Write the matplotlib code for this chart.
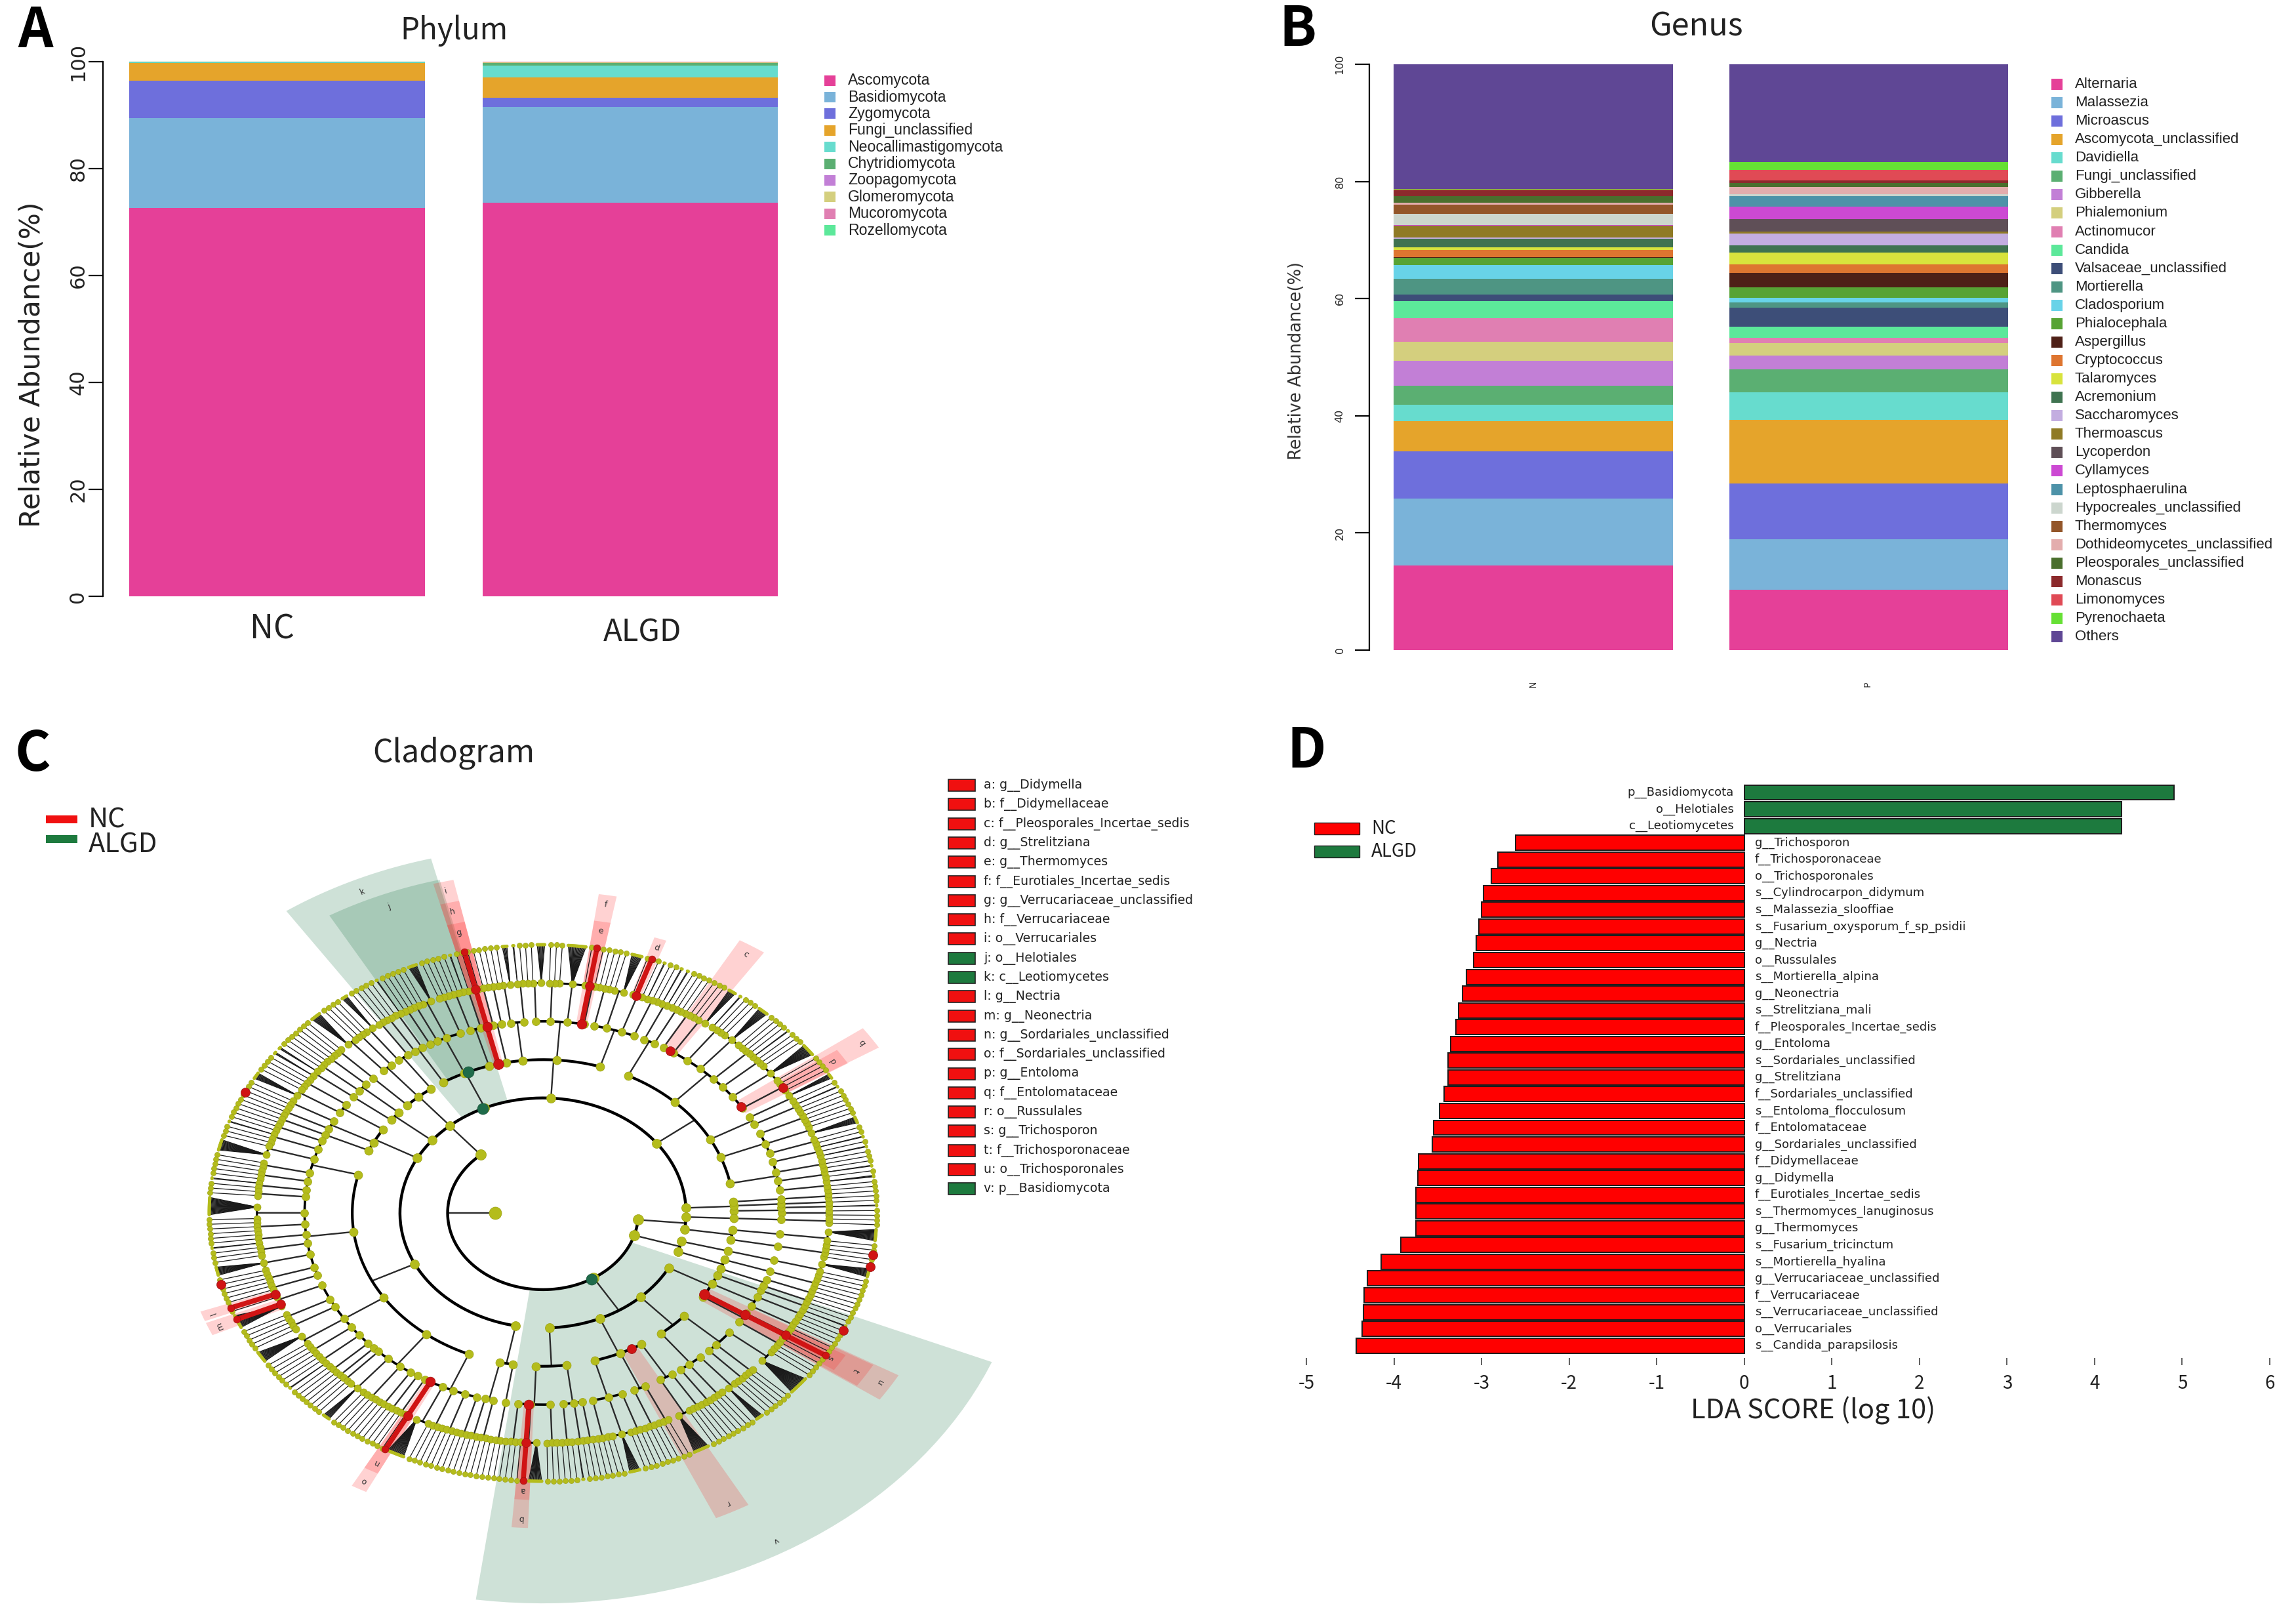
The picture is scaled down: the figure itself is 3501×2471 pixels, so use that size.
import numpy as np
import matplotlib
matplotlib.use("Agg")
import matplotlib.pyplot as plt
from matplotlib.collections import LineCollection
from matplotlib.patches import Polygon, Rectangle

W, H = 3501, 2471
UI_FONT = ["Noto Sans CJK SC", "DejaVu Sans"]
R_FONT = "Liberation Sans"

# panel A: phylum composition
phylum_names = ["Ascomycota", "Basidiomycota", "Zygomycota", "Fungi_unclassified", "Neocallimastigomycota",
                "Chytridiomycota", "Zoopagomycota", "Glomeromycota", "Mucoromycota", "Rozellomycota"]
phylum_nc = [72.6, 16.9, 7.0, 3.3, 0.1, 0.05, 0.02, 0.01, 0.01, 0.01]
phylum_algd = [73.6, 17.9, 1.8, 3.8, 2.2, 0.4, 0.1, 0.1, 0.05, 0.05]
phylum_groups = ["NC", "ALGD"]
phylum_ticks = [0, 20, 40, 60, 80, 100]
palette = ["#E54098", "#7AB3D9", "#6E6FDC", "#E5A42B", "#67DCCE", "#5BAF72", "#C27FD6", "#D4CF7E", "#E07FB2",
           "#5CE89A", "#3D4E78", "#4E9583", "#68D3E8", "#57A334", "#4E2017", "#DE7530", "#D8E33D", "#3F7350",
           "#C3ADE0", "#8F7A25", "#5F4F57", "#CC49D3", "#4D92A8", "#CCD6CE", "#93562A", "#E3ADAD", "#4A6F2D",
           "#8C2A2C", "#E04A55", "#66E034", "#5F4795"]

# panel B: genus composition
genus_names = ["Alternaria", "Malassezia", "Microascus", "Ascomycota_unclassified", "Davidiella", "Fungi_unclassified",
               "Gibberella", "Phialemonium", "Actinomucor", "Candida", "Valsaceae_unclassified", "Mortierella",
               "Cladosporium", "Phialocephala", "Aspergillus", "Cryptococcus", "Talaromyces", "Acremonium",
               "Saccharomyces", "Thermoascus", "Lycoperdon", "Cyllamyces", "Leptosphaerulina",
               "Hypocreales_unclassified", "Thermomyces", "Dothideomycetes_unclassified", "Pleosporales_unclassified",
               "Monascus", "Limonomyces", "Pyrenochaeta", "Others"]
genus_n = [14.5, 11.4, 8.0, 5.2, 2.8, 3.2, 4.3, 3.2, 4.1, 2.9, 1.1, 2.7, 2.3, 1.3, 0.1, 1.2, 0.5, 1.4, 0.2, 2.0,
           0.1, 0.05, 0.05, 1.9, 1.5, 0.4, 1.1, 1.0, 0.1, 0.1, 21.3]
genus_p = [10.3, 8.6, 9.5, 10.9, 4.7, 3.9, 2.4, 2.1, 0.9, 1.9, 3.2, 0.9, 0.8, 1.8, 2.5, 1.4, 2.1, 1.2, 2.0, 0.4,
           2.1, 2.1, 1.8, 0.3, 0.05, 1.2, 0.7, 0.4, 1.8, 1.4, 16.7]
genus_groups = ["N", "P"]

# panel D: LDA scores, top bar first
lda_names = ["p__Basidiomycota", "o__Helotiales", "c__Leotiomycetes", "g__Trichosporon", "f__Trichosporonaceae",
             "o__Trichosporonales", "s__Cylindrocarpon_didymum", "s__Malassezia_slooffiae",
             "s__Fusarium_oxysporum_f_sp_psidii", "g__Nectria", "o__Russulales", "s__Mortierella_alpina",
             "g__Neonectria", "s__Strelitziana_mali", "f__Pleosporales_Incertae_sedis", "g__Entoloma",
             "s__Sordariales_unclassified", "g__Strelitziana", "f__Sordariales_unclassified",
             "s__Entoloma_flocculosum", "f__Entolomataceae", "g__Sordariales_unclassified", "f__Didymellaceae",
             "g__Didymella", "f__Eurotiales_Incertae_sedis", "s__Thermomyces_lanuginosus", "g__Thermomyces",
             "s__Fusarium_tricinctum", "s__Mortierella_hyalina", "g__Verrucariaceae_unclassified",
             "f__Verrucariaceae", "s__Verrucariaceae_unclassified", "o__Verrucariales", "s__Candida_parapsilosis"]
lda_values = [4.91, 4.31, 4.31, -2.61, -2.81, -2.89, -2.98, -3.0, -3.03, -3.06, -3.09, -3.17, -3.22, -3.26, -3.29,
              -3.35, -3.38, -3.38, -3.43, -3.48, -3.55, -3.56, -3.72, -3.73, -3.75, -3.75, -3.75, -3.92, -4.15,
              -4.3, -4.34, -4.35, -4.36, -4.43]
lda_ticks = [-5, -4, -3, -2, -1, 0, 1, 2, 3, 4, 5, 6]

# panel C: biomarker legend
clade_labels = ["a: g__Didymella", "b: f__Didymellaceae", "c: f__Pleosporales_Incertae_sedis", "d: g__Strelitziana",
                "e: g__Thermomyces", "f: f__Eurotiales_Incertae_sedis", "g: g__Verrucariaceae_unclassified",
                "h: f__Verrucariaceae", "i: o__Verrucariales", "j: o__Helotiales", "k: c__Leotiomycetes",
                "l: g__Nectria", "m: g__Neonectria", "n: g__Sordariales_unclassified", "o: f__Sordariales_unclassified",
                "p: g__Entoloma", "q: f__Entolomataceae", "r: o__Russulales", "s: g__Trichosporon",
                "t: f__Trichosporonaceae", "u: o__Trichosporonales", "v: p__Basidiomycota"]
clade_green = ["j", "k", "v"]

# cladogram tree, nested class > order > family > genus, ints are species counts per genus (estimated)
asco = [
    [[[1, 1], [2]], [[1]], [[1, 1]]],
    [[[1, 1, 3], [1, 2], [1, 1, 1], [2, 1, 2]], [[1, 1], [9, 1], [1, 1, 1, 1]], [[1, 2], [1, 7]],
     [[1, 1, 1], [1, 16, 1], [1, 1], [2, 1, 1, 1], [1, 12, 1], [1, 1, 2], [9, 1, 1], [1, 1]], [[1, 1, 1], [2, 2]]],
    [[[1, 1, 2], [1, 1, 1], [12, 1], [1, 1, 1]], [[1, 1], [1, 20, 1], [1, 1], [9, 1, 1]], [[1, 2], [6, 1, 1]],
     [[1], [1, 1, 1]]],
    [[[1, 1, 2], [1, 1]], [[1, 1, 1], [10, 1], [1, 1], [1, 1]], [[2, 1], [1, 1]]],
    [[[1, 1], [7, 1]], [[1, 1], [1, 12]], [[1, 1]]],
    [[[1, 1, 1], [1, 1]], [[3, 3]]],
    [[[1, 1, 1], [1, 9]], [[1, 1], [1, 1, 1]], [[1]]],
    [[[1, 1, 1], [2, 1], [1, 1, 15], [1, 1], [1, 1, 1], [2, 1]],
     [[1, 1], [24, 1], [1, 1, 1], [1, 1, 2], [1, 1], [1, 12, 1], [1, 1, 1], [1, 1]],
     [[1, 1, 18], [1, 1], [1, 1, 1], [15, 1], [1, 1, 1], [1, 1, 2], [1, 1, 1], [1]],
     [[1, 1], [1, 9, 1], [1, 1, 1], [1, 1, 1], [1]],
     [[1, 1, 1], [20, 1], [1, 1], [1, 1, 1, 1], [1, 1]]],
    [[[1, 1], [1, 1]], [[1, 1, 1, 1]]],
]
basidio = [
    [[[1, 1], [1, 1, 15], [1, 1, 1]], [[1, 1, 1], [2, 1], [1, 1]]],
    [[[1, 1, 1], [1, 12, 1], [1, 1]], [[1, 1, 1, 1], [1, 1]], [[18, 1], [1, 1, 1]]],
    [[[1, 1], [1, 1, 1], [9, 1]], [[1, 1, 1], [1, 1], [24, 1]]],
    [[[1, 1, 1, 1], [1, 1]], [[1, 1, 1], [1, 1, 2]], [[1]]],
]
phylum_c = [[[[1, 1], [1, 1]], [[1, 1, 1]]], [[[1, 1, 12]]]]
phylum_d = [[[[1, 1, 1]], [[1, 1, 16]]], [[[1, 1]]]]
tree = [asco, basidio, phylum_c, phylum_d]
tree_start_angle = -1.0
root_angle = 180.0
fan_packing = 0.16

# shaded clades: label, angle, angular width, inner and outer radius in units of the outermost ring
green_labels = ["v", "k", "j"]
green_angles = [299.8, 114.3, 112.0]
green_widths = [75.5, 20.1, 16.0]
green_r0 = [0.29, 0.43, 0.57]
green_r1 = [1.455, 1.363, 1.28]
strip_labels = ["i", "h", "g", "f", "e", "d", "c", "q", "p", "u", "t", "s", "r", "b", "a", "o", "n", "l", "m"]
strip_angles = [103.6, 103.6, 103.6, 80.7, 80.7, 71.0, 57.8, 33.6, 33.0, -32.1, -32.1, -32.1, -63.0, 266.6, 266.6,
                241.8, 241.8, 200.7, 203.4]
strip_widths = [2.8, 2.8, 2.8, 2.6, 2.6, 2.0, 4.2, 4.2, 3.2, 5.0, 4.6, 3.6, 5.0, 2.4, 2.4, 2.4, 2.4, 2.0, 2.6]
strip_r0 = [0.57, 0.71, 0.86, 0.71, 0.86, 0.86, 0.71, 0.71, 0.86, 0.57, 0.71, 0.86, 0.57, 0.71, 0.86, 0.71, 0.86,
            0.86, 0.86]
strip_r1 = [1.27, 1.19, 1.11, 1.2, 1.1, 1.08, 1.175, 1.18, 1.07, 1.225, 1.14, 1.05, 1.25, 1.175, 1.07, 1.167, 1.09,
            1.09, 1.09]
# red branches and nodes that are significant: angle, first ring, last ring
red_angles = [103.6, 80.7, 71.0, 266.6, 241.8, -32.1, 200.7, 203.4]
red_ring0 = [4, 5, 6, 5, 5, 4, 6, 6]
red_ring1 = [7, 7, 7, 7, 7, 7, 7, 7]
red_node_angles = [57.8, 33.7, 33.0, -62.3, 153.2, 195.4, -9.0, -11.5, -25.9]
red_node_rings = [5, 5, 6, 4, 7, 7, 7, 7, 7]
green_node_angles = [300.5, 114.8, 113.0]
green_node_rings = [2, 3, 4]


def px_rect(x0, y0, x1, y1):
    return [x0 / W, 1 - y1 / H, (x1 - x0) / W, (y1 - y0) / H]


fig = plt.figure(figsize=(W / 100, H / 100), dpi=100, facecolor="white")


def stacked(ax, values, pos, width):
    bottom = 0
    for v, c in zip(values, palette):
        ax.bar(pos, v, width, bottom=bottom, color=c, linewidth=0)
        bottom += v


def style_stack(ax, tick_size, label_x, tick_len):
    ax.set_ylim(0, 100)
    ax.set_yticks(phylum_ticks)
    ax.set_yticklabels([])
    ax.tick_params(axis="y", length=tick_len, width=1.6)
    trans = ax.get_yaxis_transform()
    for t in phylum_ticks:
        ax.text(label_x, t, str(t), transform=trans, rotation=90, ha="center", va="center", fontsize=tick_size,
                color="#222222", clip_on=False)
    ax.set_xticks([])
    for s in ["top", "right", "bottom"]:
        ax.spines[s].set_visible(False)
    ax.spines["left"].set_linewidth(1.6)
    ax.spines["left"].set_bounds(0, 100)
    ax.patch.set_alpha(0)


# A
ax_a = fig.add_axes(px_rect(157, 94, 1186, 909))
stacked(ax_a, phylum_nc, 0, 0.837)
stacked(ax_a, phylum_algd, 1, 0.837)
ax_a.set_xlim(-0.4926, 1.4165)
style_stack(ax_a, 22, -0.037, 16)

# B
ax_b = fig.add_axes(px_rect(2088, 98, 3063, 991))
stacked(ax_b, genus_n, 0, 0.832)
stacked(ax_b, genus_p, 1, 0.832)
ax_b.set_xlim(-0.489, 1.418)
style_stack(ax_b, 11.5, -0.046, 16)

# C: cladogram, unit radius is the outermost ring, squashed to an ellipse by the axes
RX, RY = 509, 409
CX, CY = 828, 1849
ax_c = fig.add_axes(px_rect(CX - 1.6 * RX, CY - 1.6 * RY, CX + 1.6 * RX, CY + 1.6 * RY))
ax_c.set_xlim(-1.6, 1.6)
ax_c.set_ylim(-1.6, 1.6)
ax_c.axis("off")
ax_c.patch.set_alpha(0)


def pol(angle, r):
    a = np.radians(angle)
    return r * np.cos(a), r * np.sin(a)


def sector(angle, width, r0, r1):
    a = np.linspace(angle - width / 2, angle + width / 2, 40)
    xo, yo = pol(a, r1)
    xi, yi = pol(a[::-1], r0)
    return np.column_stack([np.r_[xo, xi], np.r_[yo, yi]])


for lab, a, w, r0, r1 in zip(green_labels, green_angles, green_widths, green_r0, green_r1):
    ax_c.add_patch(Polygon(sector(a, w, r0, r1), closed=True, fc="#0E6B3A", ec="none", alpha=0.2, zorder=1))
    tx, ty = pol(a, r1 - 0.05)
    ax_c.text(tx, ty, lab, fontsize=9, color="#333333", ha="center", va="center", rotation=a - 90, zorder=6)
for lab, a, w, r0, r1 in zip(strip_labels, strip_angles, strip_widths, strip_r0, strip_r1):
    ax_c.add_patch(Polygon(sector(a, w, r0, r1), closed=True, fc="#FF2020", ec="none", alpha=0.2, zorder=1))
    tx, ty = pol(a, r1 - 0.035)
    ax_c.text(tx, ty, lab, fontsize=9, color="#333333", ha="center", va="center", rotation=a - 90, zorder=6)


def genus_sizes(node):
    if isinstance(node, int):
        return [node]
    return [g for c in node for g in genus_sizes(c)]


# a genus takes one slot, its extra species pack tightly into dark fans
total_slots = sum(1 + (g - 1) * fan_packing for g in genus_sizes(tree))
step = 360.0 / total_slots
cursor = [0.0]
radial, arcs, fans, dots = [], [], [], {k: [] for k in range(1, 8)}
fan_dots = []


def ring(k):
    return k / 7.0


def place(node, level):
    # level 6 nodes are genera: plain ints with species on the outer ring
    if level == 6:
        angles = [tree_start_angle + step * (cursor[0] + i * fan_packing + 0.5) for i in range(node)]
        cursor[0] += 1 + (node - 1) * fan_packing
        a = 0.5 * (angles[0] + angles[-1])
        x0, y0 = pol(a, ring(6))
        for b in angles:
            x1, y1 = pol(b, ring(7))
            fans.append([(x0, y0), (x1, y1)])
            (dots[7] if node == 1 else fan_dots).append((x1, y1))
        dots[6].append((x0, y0))
        return a
    child_angles = [place(c, level + 1) for c in node]
    a = 0.5 * (child_angles[0] + child_angles[-1])
    dots[level].append(pol(a, ring(level)))
    radial.append([pol(a, ring(level)), pol(a, ring(level + 1))])
    if len(child_angles) > 1:
        t = np.linspace(child_angles[0], child_angles[-1], 200)
        arcs.append((level + 1, np.column_stack(pol(t, ring(level + 1)))))
    return a


phylum_angles = [place(p, 2) for p in tree]
dots[1].append(pol(root_angle, ring(1)))
radial.append([pol(root_angle, ring(1)), pol(root_angle, ring(2))])
t = np.linspace(phylum_angles[0], phylum_angles[-1], 300)
arcs.append((2, np.column_stack(pol(t, ring(2)))))

ax_c.add_collection(LineCollection(radial, colors="#2A2A2A", linewidths=1.7, zorder=2))
ax_c.add_collection(LineCollection(fans, colors="#1A1A1A", linewidths=0.9, zorder=2))
arc_lw = {2: 3.2, 3: 3.2, 4: 3.0, 5: 2.6, 6: 2.2, 7: 1.6}
for k, seg in arcs:
    ax_c.plot(seg[:, 0], seg[:, 1], color="black", lw=arc_lw[k], zorder=3, solid_capstyle="round")
dot_px = {1: 19, 2: 16, 3: 14, 4: 13, 5: 12, 6: 11, 7: 8}
for k, pts in dots.items():
    pts = np.array(pts)
    ax_c.scatter(pts[:, 0], pts[:, 1], s=(dot_px[k] * 0.72) ** 2, c="#B4BC1C", edgecolors="#9CA214", linewidths=0.5,
                 zorder=4)
pts = np.array(fan_dots)
ax_c.scatter(pts[:, 0], pts[:, 1], s=(5 * 0.72) ** 2, c="#B4BC1C", edgecolors="none", zorder=4)
for a, k0, k1 in zip(red_angles, red_ring0, red_ring1):
    x0, y0 = pol(a, ring(k0))
    x1, y1 = pol(a, ring(k1))
    ax_c.plot([x0, x1], [y0, y1], color="#D01414", lw=5.5, zorder=5, solid_capstyle="butt")
    for k in range(k0, k1 + 1):
        xk, yk = pol(a, ring(k))
        ax_c.scatter(xk, yk, s=(dot_px[k] * 0.72 + 2) ** 2, c="#D01414", edgecolors="#A01010", linewidths=0.5, zorder=5)
for a, k in zip(red_node_angles, red_node_rings):
    x, y = pol(a, ring(k))
    ax_c.scatter(x, y, s=(14 * 0.72) ** 2, c="#D01414", edgecolors="#901010", linewidths=0.5, zorder=5)
for a, k in zip(green_node_angles, green_node_rings):
    x, y = pol(a, ring(k))
    ax_c.scatter(x, y, s=(17 * 0.72) ** 2, c="#1F6B4A", edgecolors="#175238", linewidths=0.5, zorder=5)

# D
BAR_TOP, BAR_STEP = 1208, 25.55
D_TOP, D_BOTTOM = 1185, 2070
ax_d = fig.add_axes(px_rect(1992, D_TOP, 3461, D_BOTTOM))
ax_d.barh(range(len(lda_values)), lda_values, height=0.9, linewidth=1.4, edgecolor="#1A1A1A",
          color=["#FF0000" if v < 0 else "#1D7A3E" for v in lda_values])
ax_d.set_xlim(-5, 6)
ax_d.set_ylim((D_BOTTOM - BAR_TOP) / BAR_STEP, (D_TOP - BAR_TOP) / BAR_STEP)
for i, (n, v) in enumerate(zip(lda_names, lda_values)):
    ax_d.text(-0.12 if v > 0 else 0.12, i, n, ha="right" if v > 0 else "left", va="center", fontsize=13,
              color="#222222")
ax_d.set_yticks([])
ax_d.set_xticks(lda_ticks)
ax_d.set_xticklabels([str(t) for t in lda_ticks], fontsize=20, family=UI_FONT, color="#222222")
ax_d.tick_params(axis="x", length=8, width=1.2, pad=9, color="#444444")
for s in ax_d.spines.values():
    s.set_visible(False)
ax_d.patch.set_alpha(0)

# overlay in reference pixels for titles, panel letters and legends
ov = fig.add_axes([0, 0, 1, 1])
ov.set_xlim(0, W)
ov.set_ylim(H, 0)
ov.axis("off")
ov.patch.set_alpha(0)

for s, x, y in [("A", 54, 48), ("B", 1979, 45), ("C", 50, 1150), ("D", 1992, 1146)]:
    ov.text(x, y, s, fontsize=60, fontweight="bold", family=UI_FONT, ha="center", va="center", color="black")
ov.text(692, 47, "Phylum", fontsize=33, family=UI_FONT, ha="center", va="center", color="#222222")
ov.text(2586, 41, "Genus", fontsize=35, family=UI_FONT, ha="center", va="center", color="#222222")
ov.text(692, 1148, "Cladogram", fontsize=34.5, family=UI_FONT, ha="center", va="center", color="#222222")

ov.text(49, 556, "Relative Abundance(%)", fontsize=30.5, rotation=90, ha="center", va="center", color="#222222")
ov.text(1977, 550, "Relative Abundance(%)", fontsize=18.5, rotation=90, ha="center", va="center", color="#333333")
ov.text(415, 959, phylum_groups[0], fontsize=36, family=UI_FONT, ha="center", va="center", color="#222222")
ov.text(980, 964, phylum_groups[1], fontsize=34, family=UI_FONT, ha="center", va="center", color="#222222")
ov.text(2338, 1043, genus_groups[0], fontsize=10, rotation=90, ha="center", va="center", color="#333333")
ov.text(2848, 1043, genus_groups[1], fontsize=10, rotation=90, ha="center", va="center", color="#333333")

for i, n in enumerate(phylum_names):
    y = 122.6 + i * 25.4
    ov.add_patch(Rectangle((1257, y - 8), 17, 16, fc=palette[i], ec="none"))
    ov.text(1293, y, n, fontsize=16.6, family=R_FONT, va="center", color="#222222")
for i, n in enumerate(genus_names):
    y = 128.5 + i * 28.07
    ov.add_patch(Rectangle((3128, y - 8.5), 17, 17, fc=palette[i], ec="none"))
    ov.text(3164, y, n, fontsize=16, family=R_FONT, va="center", color="#222222")

for i, n in enumerate(clade_labels):
    y = 1197 + i * 29.3
    col = "#1D7A3E" if n[0] in clade_green else "#F01010"
    ov.add_patch(Rectangle((1446, y - 9), 41, 18, fc=col, ec="#222222", lw=1.2))
    ov.text(1500, y, n, fontsize=13.6, va="center", color="#222222")

ov.add_patch(Rectangle((70, 1243), 48, 12, fc="#F01010", ec="none"))
ov.add_patch(Rectangle((70, 1273), 48, 12, fc="#1D7A3E", ec="none"))
ov.text(135, 1250, "NC", fontsize=30, family=UI_FONT, va="center", color="#222222")
ov.text(135, 1288, "ALGD", fontsize=30, family=UI_FONT, va="center", color="#222222")

ov.add_patch(Rectangle((2004, 1254), 69, 18, fc="#FF0000", ec="#222222", lw=1))
ov.add_patch(Rectangle((2004, 1289), 69, 18, fc="#1D7A3E", ec="#222222", lw=1))
ov.text(2091, 1263, "NC", fontsize=20, family=UI_FONT, va="center", color="#222222")
ov.text(2091, 1298, "ALGD", fontsize=20, family=UI_FONT, va="center", color="#222222")
ov.text(2765, 2150, "LDA SCORE (log 10)", fontsize=30, family=UI_FONT, ha="center", va="center", color="#222222")

fig.savefig("out.png", dpi=100, facecolor="white")
